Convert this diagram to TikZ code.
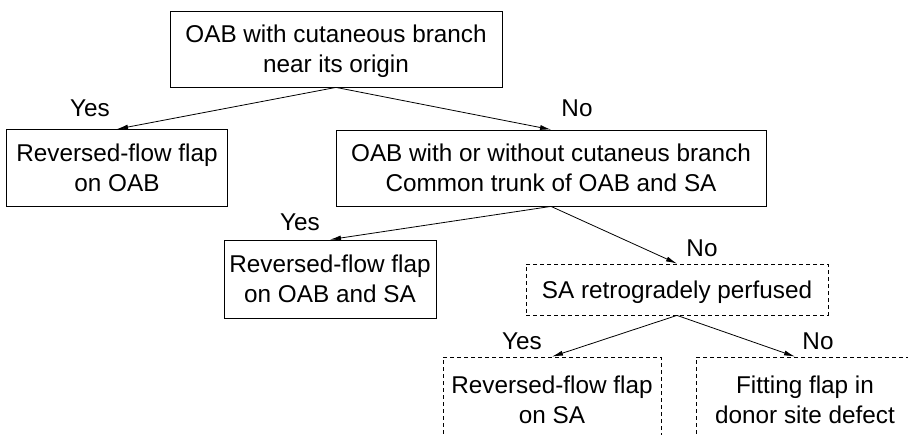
\documentclass[tikz,border=0pt]{standalone}
\usepackage{fontspec}
\setmainfont{Liberation Sans}
\usetikzlibrary{positioning}
\usetikzlibrary{arrows.meta}

\begin{document}
\begin{tikzpicture}[x=1pt, y=-1pt,
    box/.style={draw, line width=.8pt, align=center, inner sep=0pt},
    dbox/.style={box, dash pattern=on 4pt off 3pt},
    arr/.style={-{Latex[length=11pt, width=5pt]}, line width=.8pt},
    font=\fontsize{24.3}{30}\selectfont]
    \useasboundingbox (0,0) rectangle (908,434);

    \node[box, minimum width=332, minimum height=76] (origin) at (336,49) {OAB with cutaneous branch\\\smash{near its origin}};
    \node[box, minimum width=221, minimum height=77] (flapOAB) at (117,168) {Reversed-flow flap\\on OAB};
    \node[box, minimum width=430, minimum height=76] (trunk) at (551,168) {OAB with or without cutaneus branch\\Common trunk of OAB and SA};
    \node[box, minimum width=212, minimum height=78] (flapOABSA) at (330,279) {Reversed-flow flap\\on OAB and SA};
    \node[dbox, minimum width=302, minimum height=51, text height=17pt, text depth=0pt] (perfused) at (677,289.5) {SA retrogradely perfused};
    \node[dbox, minimum width=218, minimum height=86] (flapSA) at (552,400) {Reversed-flow flap\\on SA};
    \node[dbox, minimum width=218, minimum height=86] (fitting) at (805,400) {Fitting flap in\\donor site defect};

    \draw[arr] (origin.south) -- (flapOAB.north);
    \draw[arr] (origin.south) -- (trunk.north);
    \draw[arr] (trunk.south) -- (flapOABSA.north);
    \draw[arr] (trunk.south) -- (perfused.north);
    \draw[arr] (perfused.south) -- (flapSA.north);
    \draw[arr] (perfused.south) -- ([xshift=-10]fitting.north);

    \node (yesA) at (90,108) {Yes};
    \node (noA) at (577,108) {No};
    \node (yesB) at (300,222) {Yes};
    \node (noB) at (702,248) {No};
    \node (yesC) at (522,341) {Yes};
    \node (noC) at (818,341) {No};
\end{tikzpicture}
\end{document}
